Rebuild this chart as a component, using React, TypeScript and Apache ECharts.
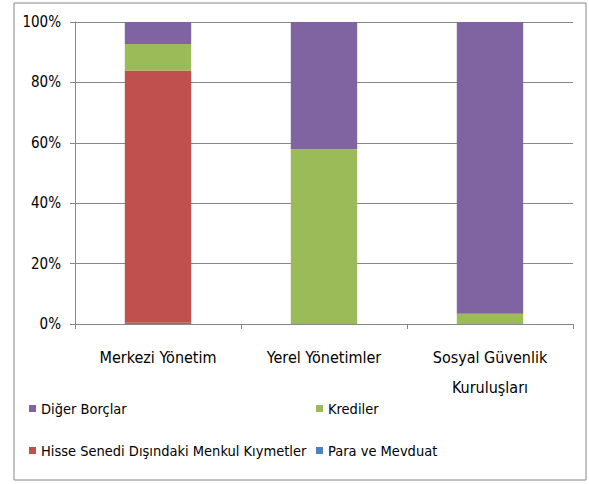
import React, { useEffect, useRef } from "react";
import * as echarts from "echarts";

const categories = ["Merkezi Yönetim", "Yerel Yönetimler", "Sosyal Güvenlik\nKuruluşları"];
const paraVeMevduat = [0.4, 0, 0];
const hisseSenedi = [83.5, 0, 0];
const krediler = [8.8, 57.9, 3.4];
const digerBorclar = [7.3, 42.1, 96.6];
const yTicks = [0, 20, 40, 60, 80, 100];

const FONT = "'DejaVu Sans Condensed', 'Liberation Sans Narrow', Roboto, sans-serif";

export default function App() {
  const ref = useRef<HTMLDivElement>(null);
  useEffect(() => {
    document.body.style.margin = "0";
    const chart = echarts.init(ref.current!, null, { renderer: "svg" });
    const mk = (name: string, data: number[], color: string) => ({
      name,
      type: "bar",
      stack: "total",
      data,
      barCategoryGap: "60%",
      itemStyle: { color },
      emphasis: { disabled: true },
    });
    chart.setOption({
      animation: false,
      backgroundColor: "#ffffff",
      textStyle: { fontFamily: FONT },
      grid: { left: 75, right: 16, top: 22, bottom: 160 },
      xAxis: {
        type: "category",
        data: categories,
        axisLine: { lineStyle: { color: "#868686" } },
        axisTick: { show: true, length: 5, lineStyle: { color: "#868686" } },
        axisLabel: { color: "#000", fontSize: 16, fontFamily: FONT, margin: 18, lineHeight: 30, interval: 0 },
      },
      yAxis: {
        type: "value",
        min: yTicks[0],
        max: yTicks[yTicks.length - 1],
        interval: 20,
        axisLine: { show: true, lineStyle: { color: "#868686" } },
        axisTick: { show: true, length: 5, lineStyle: { color: "#868686" } },
        splitLine: { lineStyle: { color: "#868686" } },
        axisLabel: { color: "#000", fontSize: 15, fontFamily: FONT, margin: 14, formatter: "{value}%" },
      },
      legend: [
        {
          left: 24,
          top: 396,
          orient: "vertical",
          itemWidth: 7,
          itemHeight: 7,
          itemGap: 27,
          icon: "rect",
          selectedMode: false,
          textStyle: { fontSize: 14.5, color: "#000", fontFamily: FONT },
          data: ["Diğer Borçlar", "Hisse Senedi Dışındaki Menkul Kıymetler"],
        },
        {
          left: 311,
          top: 396,
          orient: "vertical",
          itemWidth: 7,
          itemHeight: 7,
          itemGap: 27,
          icon: "rect",
          selectedMode: false,
          textStyle: { fontSize: 14.5, color: "#000", fontFamily: FONT },
          data: ["Krediler", "Para ve Mevduat"],
        },
      ],
      graphic: [
        {
          type: "rect",
          shape: { x: 14, y: 3, width: 572, height: 477 },
          style: { fill: "none", stroke: "#868686", lineWidth: 1 },
          silent: true,
        },
      ],
      series: [
        mk("Para ve Mevduat", paraVeMevduat, "#4F81BD"),
        mk("Hisse Senedi Dışındaki Menkul Kıymetler", hisseSenedi, "#C0504D"),
        mk("Krediler", krediler, "#9BBB59"),
        mk("Diğer Borçlar", digerBorclar, "#8064A2"),
      ],
    });
    return () => chart.dispose();
  }, []);
  return <div ref={ref} style={{ width: 589, height: 484, position: "fixed", left: 0, top: 0 }} />;
}
